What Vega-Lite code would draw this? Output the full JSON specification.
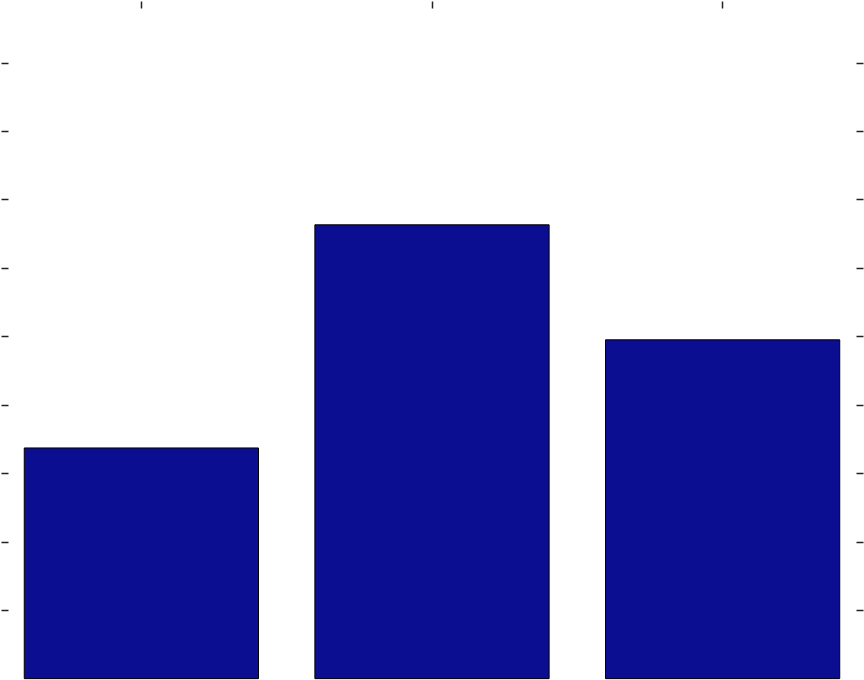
{
  "$schema": "https://vega.github.io/schema/vega-lite/v6.json",
  "width": 864,
  "height": 680,
  "padding": 0,
  "autosize": {"type": "fit", "contains": "padding"},
  "background": "white",
  "config": {"view": {"stroke": null}},
  "data": {"values": [
    {"cat": "A", "value": 3.37},
    {"cat": "B", "value": 6.63},
    {"cat": "C", "value": 4.95}
  ]},
  "resolve": {"axis": {"y": "independent"}},
  "layer": [
    {
      "mark": {"type": "bar", "color": "#0c0e91", "stroke": "#000000", "strokeWidth": 1},
      "encoding": {
        "x": {"field": "cat", "type": "nominal",
              "scale": {"paddingInner": 0.194, "paddingOuter": 0.08},
              "axis": {"orient": "top", "labels": false, "title": null, "domain": false, "tickSize": -7, "tickWidth": 1.5, "tickColor": "#222222"}},
        "y": {"field": "value", "type": "quantitative",
              "scale": {"domain": [-0.02, 9.9], "nice": false, "zero": false},
              "axis": {"orient": "left", "values": [1,2,3,4,5,6,7,8,9], "labels": false, "title": null, "domain": false, "grid": false, "tickSize": -7, "tickWidth": 1.5, "tickColor": "#222222"}},
        "y2": {"datum": 0}
      }
    },
    {
      "mark": {"type": "bar", "opacity": 0},
      "encoding": {
        "x": {"field": "cat", "type": "nominal",
              "axis": {"orient": "top", "labels": false, "title": null, "domain": false, "tickSize": -7, "tickWidth": 1.5, "tickColor": "#222222"}},
        "y": {"field": "value", "type": "quantitative",
              "axis": {"orient": "right", "values": [1,2,3,4,5,6,7,8,9], "labels": false, "title": null, "domain": false, "grid": false, "tickSize": -7, "tickWidth": 1.5, "tickColor": "#222222"}},
        "y2": {"datum": 0}
      }
    }
  ]
}
